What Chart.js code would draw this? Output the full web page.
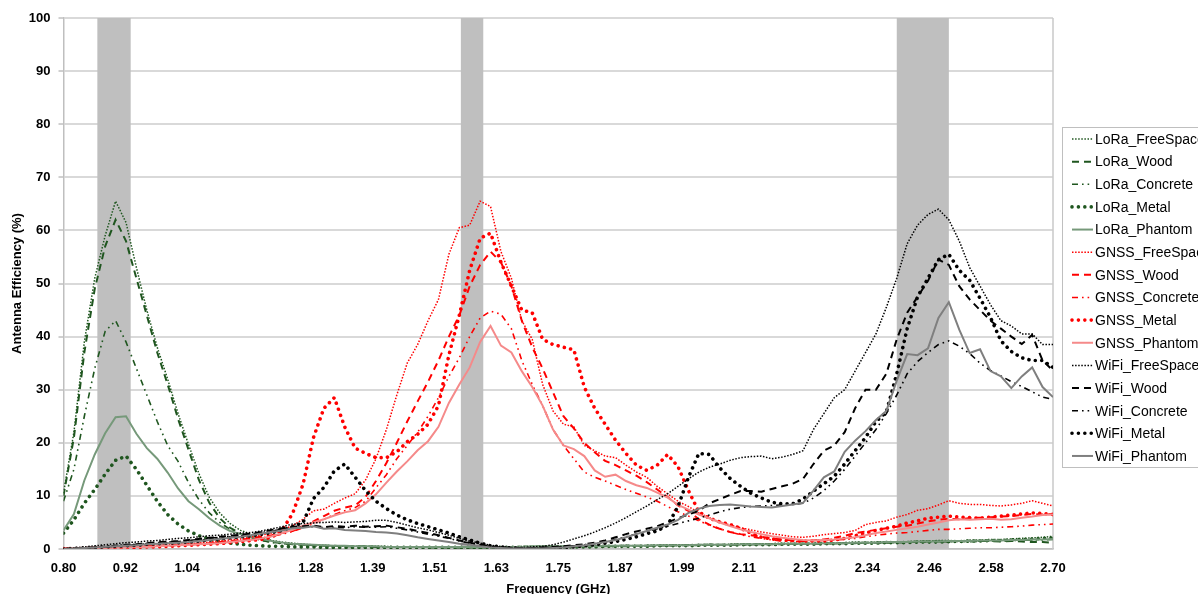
<!DOCTYPE html>
<html>
<head>
<meta charset="utf-8">
<script src="https://cdn.jsdelivr.net/npm/chart.js@4.4.1/dist/chart.umd.min.js"></script>
<style>
  html, body { margin: 0; padding: 0; background: #fff; overflow: hidden; }
  #wrap { position: relative; width: 1240px; height: 610px; }
</style>
</head>
<body>
<div id="wrap"><canvas id="chart"></canvas></div>
<script>
// Frequency grid (GHz)
const freqs = [
  0.80,0.82,0.84,0.86,0.88,0.90,0.92,0.94,0.96,0.98,
  1.00,1.02,1.04,1.06,1.08,1.10,1.12,1.14,1.16,1.18,
  1.20,1.22,1.24,1.26,1.28,1.30,1.32,1.34,1.36,1.38,
  1.40,1.42,1.44,1.46,1.48,1.50,1.52,1.54,1.56,1.58,
  1.60,1.62,1.64,1.66,1.68,1.70,1.72,1.74,1.76,1.78,
  1.80,1.82,1.84,1.86,1.88,1.90,1.92,1.94,1.96,1.98,
  2.00,2.02,2.04,2.06,2.08,2.10,2.12,2.14,2.16,2.18,
  2.20,2.22,2.24,2.26,2.28,2.30,2.32,2.34,2.36,2.38,
  2.40,2.42,2.44,2.46,2.48,2.50,2.52,2.54,2.56,2.58,
  2.60,2.62,2.64,2.66,2.68,2.70
];

// Antenna efficiency (%) per antenna / environment
const loraFreeSpace = [
  10.5,22,39,51,59,65.5,61.5,53,45,38,
  32,25.5,19.7,14.2,9.7,6.8,4.8,3.5,2.8,2.2,
  1.6,1.3,1.1,0.9,0.8,0.7,0.6,0.6,0.5,0.5,
  0.5,0.5,0.4,0.4,0.4,0.4,0.4,0.4,0.4,0.4,
  0.4,0.4,0.4,0.4,0.5,0.5,0.5,0.5,0.5,0.5,
  0.5,0.6,0.6,0.6,0.7,0.6,0.7,0.7,0.8,0.7,
  0.8,0.8,0.9,0.8,0.9,1.0,0.9,1.0,1.0,1.1,
  1.0,1.1,1.1,1.2,1.1,1.2,1.3,1.2,1.3,1.4,
  1.3,1.4,1.5,1.5,1.6,1.6,1.5,1.7,1.7,1.8,
  1.8,1.9,2.0,2.1,2.2,2.4
];
const loraWood = [
  10,21,37,49,57,62,58,51,44,37,
  31,24.5,18.7,13,8.7,5.8,4,2.9,2.2,1.7,
  1.3,1.1,0.9,0.8,0.7,0.6,0.6,0.5,0.5,0.5,
  0.4,0.4,0.4,0.4,0.4,0.3,0.3,0.3,0.3,0.3,
  0.3,0.3,0.3,0.4,0.4,0.4,0.4,0.4,0.4,0.5,
  0.5,0.5,0.5,0.5,0.6,0.6,0.6,0.6,0.7,0.7,
  0.7,0.7,0.8,0.8,0.8,0.8,0.9,0.9,0.9,0.9,
  1.0,1.0,1.0,1.0,1.1,1.1,1.1,1.2,1.2,1.2,
  1.3,1.3,1.3,1.4,1.4,1.4,1.5,1.4,1.5,1.5,
  1.4,1.5,1.4,1.3,1.3,1.2
];
const loraConcrete = [
  9,15,25,34,41,43,39,34,29,24,
  19.5,16.5,12.5,9.3,6.8,5,3.7,2.7,2.2,1.6,
  1.2,1.0,0.9,0.8,0.7,0.6,0.6,0.5,0.5,0.5,
  0.4,0.4,0.4,0.4,0.4,0.4,0.4,0.3,0.3,0.3,
  0.3,0.3,0.3,0.3,0.4,0.4,0.4,0.4,0.4,0.4,
  0.5,0.5,0.5,0.5,0.5,0.6,0.6,0.6,0.6,0.7,
  0.7,0.7,0.7,0.8,0.8,0.8,0.8,0.9,0.9,0.9,
  0.9,1.0,1.0,1.0,1.0,1.1,1.1,1.1,1.2,1.2,
  1.2,1.2,1.3,1.3,1.3,1.4,1.4,1.4,1.5,1.5,
  1.5,1.6,1.6,1.7,1.7,1.8
];
const loraMetal = [
  3,5.5,8.6,11.2,14.1,16.7,17.5,15,12,9,
  6.5,4.7,3.4,2.5,1.9,1.4,1.1,0.9,0.7,0.6,
  0.5,0.5,0.4,0.4,0.4,0.3,0.3,0.3,0.3,0.3,
  0.3,0.3,0.3,0.3,0.3,0.3,0.3,0.3,0.3,0.3,
  0.3,0.3,0.3,0.3,0.3,0.3,0.4,0.4,0.4,0.4,
  0.4,0.4,0.5,0.5,0.5,0.5,0.5,0.6,0.6,0.6,
  0.6,0.7,0.7,0.7,0.7,0.8,0.8,0.8,0.8,0.9,
  0.9,0.9,0.9,1.0,1.0,1.0,1.1,1.1,1.1,1.2,
  1.2,1.2,1.3,1.3,1.3,1.4,1.4,1.5,1.5,1.6,
  1.6,1.7,1.8,1.9,2.0,2.1
];
const loraPhantom = [
  3.5,6.6,12.9,17.8,21.8,24.8,25,21.7,19,17,
  14.4,11.4,9,7.5,5.8,4.4,3.4,2.8,2.3,1.9,
  1.5,1.2,1.0,0.9,0.8,0.7,0.6,0.6,0.5,0.5,
  0.5,0.4,0.4,0.4,0.4,0.4,0.4,0.4,0.4,0.4,
  0.4,0.4,0.4,0.4,0.4,0.5,0.5,0.5,0.5,0.5,
  0.5,0.5,0.6,0.6,0.6,0.6,0.6,0.7,0.7,0.7,
  0.7,0.8,0.8,0.8,0.8,0.9,0.9,0.9,0.9,1.0,
  1.0,1.0,1.0,1.1,1.1,1.1,1.2,1.2,1.2,1.3,
  1.3,1.3,1.4,1.4,1.4,1.5,1.5,1.5,1.6,1.6,
  1.6,1.7,1.7,1.8,1.8,1.9
];
const gnssFreeSpace = [
  0.2,0.2,0.3,0.3,0.4,0.4,0.5,0.5,0.6,0.7,
  0.8,0.9,1.0,1.1,1.3,1.5,1.7,1.9,2.2,2.6,
  3.0,3.6,4.4,5.6,7.2,7.5,8.6,9.6,10.4,13,
  17,22.5,29,35,38.5,43,47,55.5,60.5,61,
  65.5,64.5,56,51,43,39.5,31,26,23.5,23,
  19.5,18.5,17.5,17.2,15.8,14.5,13.5,11.8,10.4,9,
  8,6.8,5.9,5.1,4.5,4,3.6,3.2,2.9,2.6,
  2.3,2.2,2.4,2.7,2.9,3.1,3.5,4.6,5,5.3,
  6,6.5,7.3,7.6,8.3,9.1,8.6,8.4,8.4,8.2,
  8.1,8.3,8.6,9.1,8.6,8.1
];
const gnssWood = [
  0.1,0.2,0.2,0.3,0.3,0.4,0.4,0.5,0.5,0.6,
  0.7,0.8,0.9,1.0,1.1,1.3,1.5,1.7,2.0,2.3,
  2.6,3.0,3.4,4.2,5.2,6.2,7.2,7.8,8.2,9.8,
  12.8,16.2,20,24,27.8,31.5,35.5,40,44,49.5,
  53.5,56,54,49.5,43,38,34,29.5,25,22.7,
  20,18.2,16.6,15.8,14.8,13.8,12.6,11.2,9.8,8.2,
  7.2,5.6,4.6,3.8,3.2,2.8,2.6,2.3,2,1.8,
  1.6,1.5,1.6,1.8,2.1,2.5,3,3.3,3.6,3.9,
  4.2,4.4,4.8,5.2,5.5,5.7,5.6,5.8,5.9,6,
  6.1,6.2,6.4,6.6,6.5,6.6
];
const gnssConcrete = [
  0.1,0.1,0.2,0.2,0.3,0.3,0.4,0.4,0.5,0.5,
  0.6,0.7,0.8,0.9,1.0,1.2,1.4,1.6,1.8,2.1,
  2.4,2.8,3.3,4,4.8,5.6,6.5,7.2,7.8,9,
  11.5,14,17,19.5,22,25,28.5,32.5,36,40,
  43.5,44.8,44.2,41.5,35.5,31,27,22.5,19.5,17,
  14.5,13.5,12.8,12,11.2,10.5,9.8,9,8,7,
  6.2,5.3,4.5,3.8,3.2,2.7,2.3,2,1.7,1.5,
  1.4,1.4,1.5,1.6,1.7,1.8,2,2.3,2.6,2.8,
  3,3.1,3.3,3.5,3.7,3.7,3.8,3.9,4,4,
  4.1,4.2,4.3,4.5,4.6,4.7
];
const gnssMetal = [
  0.1,0.1,0.1,0.2,0.2,0.2,0.3,0.3,0.4,0.4,
  0.5,0.6,0.7,0.8,0.9,1.0,1.2,1.4,1.6,1.8,
  2.2,3.6,6.7,12.2,21,26.5,28.5,23,19,18,
  17.2,17.2,18.3,20.2,21.6,23.5,27,36.5,44,52.5,
  58.5,59.5,54,49.5,45,44.5,39.5,38.5,38,37.5,
  30.5,26.5,23.5,20.5,18,15.8,14.8,15.8,17.8,15.5,
  11,7,5.8,5.1,4.6,3.9,3,2.2,1.9,1.7,
  1.6,1.5,1.5,1.5,1.7,2,2.5,3,3.5,3.9,
  4.3,4.9,5.3,5.8,6,6.2,6,5.9,5.8,6,
  6.2,6.4,6.6,6.8,6.7,6.5
];
const gnssPhantom = [
  0.1,0.1,0.1,0.2,0.2,0.3,0.3,0.4,0.4,0.5,
  0.6,0.7,0.8,0.9,1.0,1.1,1.3,1.5,1.7,2.0,
  2.4,3,3.6,4.4,5,5.6,6.3,6.9,7.3,8.6,
  10.3,12.5,14.6,16.5,18.6,20.3,23,27.5,31,34.2,
  39,42,38.3,37,33.5,30.5,27,22.5,19.5,18.8,
  17.5,14.8,13.6,14,12.8,12,11.5,10.6,9.7,8.3,
  7.4,6.5,5.8,5,4.3,3.7,3.2,2.8,2.4,2.1,
  1.9,1.7,1.6,1.7,1.8,2,2.2,2.6,3,3.3,
  3.6,3.9,4.2,4.6,5,5.4,5.6,5.5,5.6,5.7,
  5.5,5.6,5.9,6.1,6.4,6.5
];
const wifiFreeSpace = [
  0.1,0.2,0.4,0.6,0.8,1.0,1.2,1.3,1.5,1.6,
  1.8,2.0,2.1,2.3,2.5,2.6,2.8,3.0,3.1,3.4,
  3.8,4.2,4.7,4.8,4.9,5,5.1,5,5.1,5.2,
  5.4,5.4,5,4.5,4,3.6,3.1,2.6,2.0,1.5,
  1.1,0.7,0.4,0.3,0.3,0.4,0.5,0.8,1.3,1.9,
  2.5,3.2,4,4.9,5.9,7,8.1,9.3,10.4,11.8,
  13.2,14.5,15.4,16,16.7,17.2,17.4,17.5,17,17.3,
  17.8,18.5,22.5,25.5,28.5,30,33.5,37,40.5,45.5,
  51,57.5,61,63,64,62,58,53,49.5,46,
  43,42,40.5,40.5,38.5,38.5
];
const wifiWood = [
  0,0.1,0.2,0.3,0.4,0.6,0.8,0.9,1.1,1.3,
  1.4,1.5,1.7,1.9,2.1,2.3,2.5,2.7,2.9,3.2,
  3.6,3.9,4.2,4.3,4.4,4.1,4.3,4.2,4.4,4.2,
  4.3,4.4,4.1,3.8,3.4,3.0,2.6,2.1,1.6,1.2,
  0.8,0.5,0.3,0.2,0.2,0.2,0.3,0.4,0.5,0.7,
  0.9,1.2,1.6,2.2,2.8,3.3,3.8,4.3,5,5.8,
  6.5,7.2,8.6,9.4,10.2,10.9,10.9,10.8,11.3,11.8,
  12.3,13.2,16,18.5,19.5,22,26.5,30,30,33,
  39.5,44.5,47.5,50.5,54.5,53.5,49.5,47,45,43,
  41.5,40,38.6,40.3,35.5,33.6
];
const wifiConcrete = [
  0,0.1,0.2,0.3,0.4,0.5,0.7,0.8,1.0,1.2,
  1.3,1.4,1.6,1.8,2.0,2.2,2.4,2.6,2.8,3.1,
  3.4,3.7,4.0,4.1,4.2,4.0,4.1,4.0,4.2,4.1,
  4.1,4.2,3.9,3.6,3.2,2.8,2.4,2.0,1.5,1.1,
  0.7,0.4,0.3,0.2,0.2,0.2,0.2,0.3,0.4,0.6,
  0.8,1.0,1.3,1.8,2.3,2.8,3.3,3.8,4.3,4.8,
  5.3,5.8,6.4,7,7.5,7.8,8,8.1,8.2,8.3,
  8.4,8.6,9.6,11,12.8,15,17.5,20,22.5,25.5,
  29,33,35.3,37,38.5,39.2,38.2,36.8,35,33.6,
  32.6,31.5,30.6,29.6,28.6,28.2
];
const wifiMetal = [
  0,0.1,0.2,0.3,0.4,0.5,0.6,0.7,0.9,1.0,
  1.1,1.2,1.3,1.5,1.7,1.9,2.1,2.3,2.5,2.8,
  3.1,3.5,4.2,5,9.5,11.6,14.7,16,13.5,11,
  9,7.6,6.4,5.5,4.8,4.2,3.6,3,2.3,1.7,
  1.1,0.6,0.4,0.2,0.1,0.1,0.1,0.2,0.3,0.4,
  0.6,0.8,1.1,1.4,1.8,2.3,2.9,3.4,4.5,8,
  13.5,18,17.8,15.3,13.3,11.8,10.5,9.6,8.8,8.5,
  8.5,9.4,10.9,12.3,13.7,16,18.5,21,24,25.8,
  33,41.5,47.5,51,54.5,55.5,52.5,50.6,47.2,43.6,
  39.2,37.2,36,35.5,35.5,34.2
];
const wifiPhantom = [
  0,0.1,0.2,0.3,0.4,0.5,0.6,0.7,0.9,1.0,
  1.1,1.2,1.3,1.5,1.7,1.9,2.1,2.3,2.6,2.9,
  3.2,3.5,3.9,4.0,4.3,3.8,3.9,3.6,3.5,3.4,
  3.2,3.1,2.9,2.6,2.2,1.9,1.6,1.3,1.0,0.8,
  0.5,0.3,0.2,0.1,0.1,0.1,0.1,0.2,0.3,0.5,
  0.7,1.0,1.3,1.7,2.2,2.8,3.4,4.0,4.6,5.5,
  6.8,7.6,8.1,8.3,8.4,8.2,8.0,7.9,7.8,8.1,
  8.4,8.7,11,13.5,14.6,18.3,20.4,22.2,24.3,26,
  31.7,36.7,36.5,37.8,43.5,46.5,41.3,36.9,37.6,33.5,
  32.5,30.3,32.5,34.2,30.5,28.6
];

// Operating bands shaded on the plot (GHz)
const bandStart = [0.865, 1.563, 2.40];
const bandEnd   = [0.929, 1.606, 2.50];

// X tick positions and their printed labels
const tickValues = [0.8,0.91875,1.0375,1.15625,1.275,1.39375,1.5125,1.63125,1.75,
                    1.86875,1.9875,2.10625,2.225,2.34375,2.4625,2.58125,2.7];
const tickLabels = ['0.80','0.92','1.04','1.16','1.28','1.39','1.51','1.63','1.75',
                    '1.87','1.99','2.11','2.23','2.34','2.46','2.58','2.70'];

const seriesNames = [
  'LoRa_FreeSpace','LoRa_Wood','LoRa_Concrete','LoRa_Metal','LoRa_Phantom',
  'GNSS_FreeSpace','GNSS_Wood','GNSS_Concrete','GNSS_Metal','GNSS_Phantom',
  'WiFi_FreeSpace','WiFi_Wood','WiFi_Concrete','WiFi_Metal','WiFi_Phantom'
];
const seriesValues = [
  loraFreeSpace, loraWood, loraConcrete, loraMetal, loraPhantom,
  gnssFreeSpace, gnssWood, gnssConcrete, gnssMetal, gnssPhantom,
  wifiFreeSpace, wifiWood, wifiConcrete, wifiMetal, wifiPhantom
];

// Line styles: free space = fine dots, wood = dashes, concrete = dash-dot-dot,
// metal = heavy round dots, phantom = solid lighter tone
const styles = {
  FreeSpace: { borderWidth: 1.5, borderDash: [1.5, 1.6], borderCapStyle: 'butt' },
  Wood:      { borderWidth: 2,   borderDash: [7, 5],     borderCapStyle: 'butt' },
  Concrete:  { borderWidth: 1.6, borderDash: [6, 4, 1.6, 4, 1.6, 4], borderCapStyle: 'butt' },
  Metal:     { borderWidth: 3.6, borderDash: [0.01, 6.4], borderCapStyle: 'round' },
  Phantom:   { borderWidth: 2,   borderDash: [],         borderCapStyle: 'butt' }
};
const familyColor = { LoRa: '#1f561f', GNSS: '#ff0000', WiFi: '#000000' };
const phantomColor = { LoRa: '#76997a', GNSS: '#f58a8a', WiFi: '#7f7f7f' };

const datasets = seriesNames.map((name, i) => {
  const [fam, env] = name.split('_');
  return Object.assign({
    label: name,
    data: freqs.map((f, k) => ({ x: f, y: seriesValues[i][k] })),
    borderColor: env === 'Phantom' ? phantomColor[fam] : familyColor[fam],
    backgroundColor: 'transparent',
    pointRadius: 0,
    tension: 0,
    fill: false,
    order: seriesNames.length - i
  }, styles[env]);
});

const bandShading = {
  id: 'bandShading',
  beforeDatasetsDraw(chart) {
    const { ctx, chartArea, scales } = chart;
    ctx.save();
    ctx.fillStyle = '#bfbfbf';
    bandStart.forEach((s, i) => {
      const x0 = scales.x.getPixelForValue(s);
      const x1 = scales.x.getPixelForValue(bandEnd[i]);
      ctx.fillRect(x0, chartArea.top, x1 - x0, chartArea.bottom - chartArea.top);
    });
    // right frame of the plot area
    ctx.strokeStyle = '#c8c8c8';
    ctx.lineWidth = 1.5;
    ctx.beginPath();
    ctx.moveTo(chartArea.right, chartArea.top);
    ctx.lineTo(chartArea.right, chartArea.bottom);
    ctx.stroke();
    ctx.restore();
  }
};

const sideLegend = {
  id: 'sideLegend',
  afterDraw(chart) {
    const { ctx, chartArea } = chart;
    const left = chartArea.right + 9;
    const top = 127;
    const rowH = 22.64;
    ctx.save();
    ctx.strokeStyle = '#bfbfbf';
    ctx.lineWidth = 1;
    ctx.setLineDash([]);
    ctx.strokeRect(left + 0.5, top + 0.5, 175, 340);
    chart.data.datasets.forEach((ds, i) => {
      const y = top + 12 + i * rowH;
      ctx.beginPath();
      ctx.setLineDash(ds.borderDash || []);
      ctx.lineCap = ds.borderCapStyle || 'butt';
      ctx.strokeStyle = ds.borderColor;
      ctx.lineWidth = ds.borderWidth;
      ctx.moveTo(left + 10, y);
      ctx.lineTo(left + 31, y);
      ctx.stroke();
      ctx.setLineDash([]);
      ctx.fillStyle = '#000';
      ctx.font = '14px "Liberation Sans", Arial, sans-serif';
      ctx.textBaseline = 'middle';
      ctx.textAlign = 'left';
      ctx.fillText(ds.label, left + 33, y + 1);
    });
    ctx.restore();
  }
};

const tickFont = { family: '"Liberation Sans", Arial, sans-serif', size: 13, weight: 'bold' };

new Chart(document.getElementById('chart'), {
  type: 'line',
  data: { datasets },
  options: {
    responsive: true,
    maintainAspectRatio: false,
    animation: false,
    devicePixelRatio: 1,
    layout: { padding: { left: 0, top: 18, right: 187, bottom: 0 } },
    plugins: { legend: { display: false }, tooltip: { enabled: false } },
    scales: {
      x: {
        type: 'linear',
        min: 0.8,
        max: 2.7,
        afterBuildTicks(scale) { scale.ticks = tickValues.map(v => ({ value: v })); },
        afterFit(scale) { scale.height = 61; },
        grid: { display: false, drawTicks: false },
        border: { display: true, color: '#bfbfbf', width: 1.5 },
        ticks: {
          autoSkip: false, maxRotation: 0, minRotation: 0, padding: 12,
          color: '#000', font: tickFont,
          callback(value, index) { return tickLabels[index]; }
        },
        title: {
          display: true, text: 'Frequency (GHz)', color: '#000',
          font: { family: '"Liberation Sans", Arial, sans-serif', size: 13, weight: 'bold' },
          padding: { top: 0, bottom: 13 }
        }
      },
      y: {
        min: 0,
        max: 100,
        afterFit(scale) { scale.width = 63.5; },
        grid: { color: '#d9d9d9', lineWidth: 2, tickLength: 5, tickColor: '#a0a0a0', tickWidth: 1 },
        border: { display: true, color: '#bfbfbf', width: 1.5 },
        ticks: { stepSize: 10, padding: 8, color: '#000', font: tickFont },
        title: {
          display: true, text: 'Antenna Efficiency (%)', color: '#000',
          font: { family: '"Liberation Sans", Arial, sans-serif', size: 13, weight: 'bold' },
          padding: { top: 10, bottom: 0 }
        }
      }
    }
  },
  plugins: [bandShading, sideLegend]
});
</script>
</body>
</html>
